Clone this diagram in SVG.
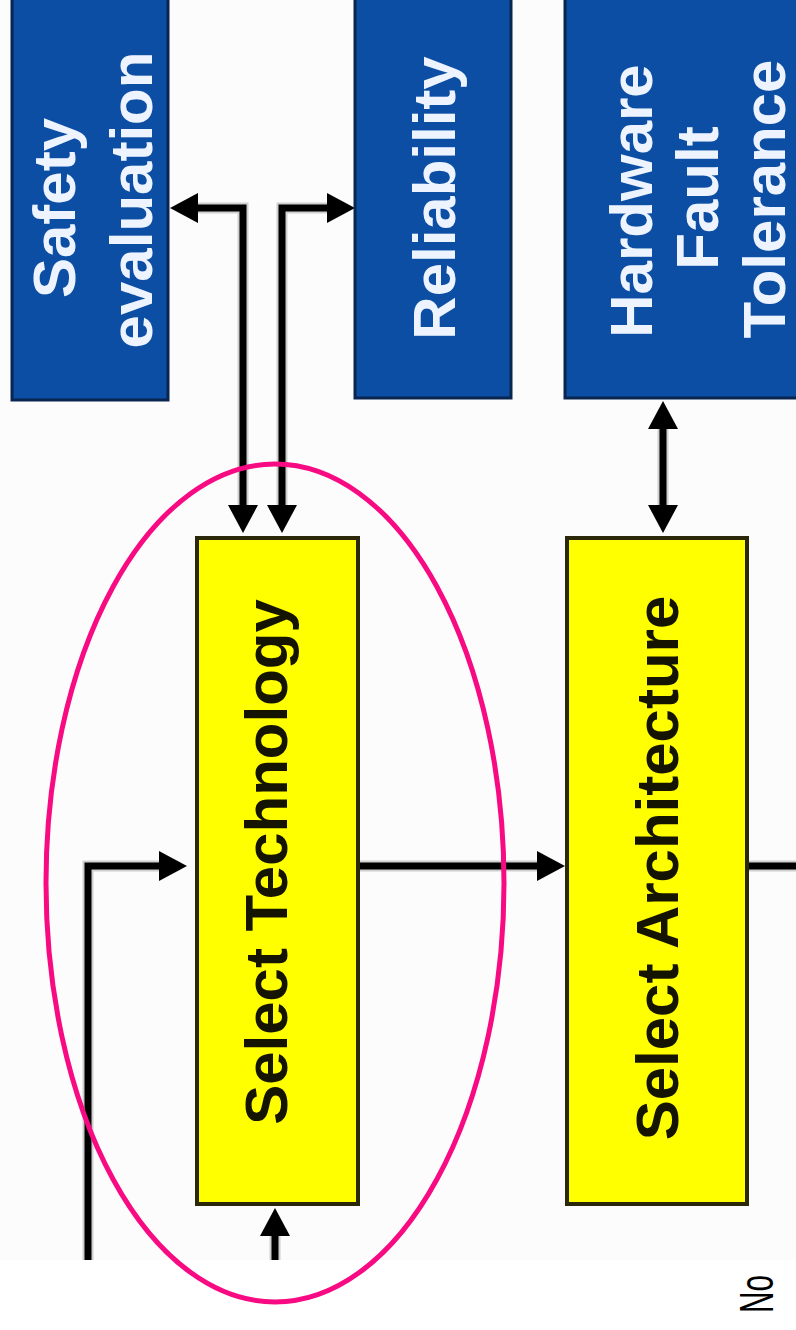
<svg xmlns="http://www.w3.org/2000/svg" width="796" height="1330" viewBox="0 0 796 1330">
  <style>
    .blue { fill: #0B4EA4; stroke: #0A2550; stroke-width: 3; }
    .yellow { fill: #FFFF00; stroke: #2A2808; stroke-width: 4; }
    .wt { font-family: "Liberation Sans", Arial, sans-serif; font-weight: bold; font-size: 60px; fill: #EEF4FF; text-anchor: middle; }
    .bt { font-family: "Liberation Sans", Arial, sans-serif; font-weight: bold; font-size: 60px; fill: #141400; text-anchor: middle; }
    .wire { fill: none; stroke: #000; stroke-width: 7; }
    .halo { fill: none; stroke: #9a9a9a; stroke-width: 11; opacity: 0.45; }
  </style>
  <defs>
    <marker id="head" markerUnits="userSpaceOnUse" viewBox="0 -16 30 32" refX="0" refY="0" markerWidth="30" markerHeight="32" orient="auto-start-reverse" overflow="visible">
      <path d="M0,-15 L28,0 L0,15 z" fill="#000"/>
    </marker>
  </defs>

  <!-- page background -->
  <rect x="0" y="0" width="796" height="1330" fill="#FFFFFF"/>
  <rect x="0" y="0" width="796" height="1260" fill="#FCFCFC"/>

  <g id="connectors">
    <path class="halo" d="M198,208 H243 V505"/>
    <path class="halo" d="M327,208 H282 V505"/>
    <path class="halo" d="M663,429 V505"/>
    <path class="halo" d="M358,866 H537"/>
    <path class="halo" d="M747,866 H800"/>
    <path class="halo" d="M88,1260 V866 H159"/>
    <path class="halo" d="M275,1260 V1236"/>

    <path class="wire" d="M198,208 H243 V505" marker-start="url(#head)" marker-end="url(#head)"/>
    <path class="wire" d="M327,208 H282 V505" marker-start="url(#head)" marker-end="url(#head)"/>
    <path class="wire" d="M663,429 V505" marker-start="url(#head)" marker-end="url(#head)"/>
    <path class="wire" d="M358,866 H537" marker-end="url(#head)"/>
    <path class="wire" d="M747,866 H800"/>
    <path class="wire" d="M88,1260 V866 H159" marker-end="url(#head)"/>
    <path class="wire" d="M275,1260 V1236" marker-end="url(#head)"/>
  </g>

  <g id="safety-evaluation">
    <rect class="blue" x="12" y="-4" width="156" height="404"/>
    <text class="wt" transform="translate(75,208) rotate(-90)">Safety</text>
    <text class="wt" transform="translate(152,200) rotate(-90)">evaluation</text>
  </g>

  <g id="reliability">
    <rect class="blue" x="355" y="-4" width="156" height="402"/>
    <text class="wt" transform="translate(455,198) rotate(-90)">Reliability</text>
  </g>

  <g id="hardware-fault-tolerance">
    <rect class="blue" x="565" y="-4" width="240" height="402"/>
    <text class="wt" transform="translate(652,201) rotate(-90)">Hardware</text>
    <text class="wt" transform="translate(718,198) rotate(-90)">Fault</text>
    <text class="wt" transform="translate(785,199) rotate(-90)">Tolerance</text>
  </g>

  <g id="select-technology">
    <rect class="yellow" x="197" y="538" width="161" height="666"/>
    <text class="bt" transform="translate(287,862) rotate(-90)">Select Technology</text>
  </g>

  <g id="select-architecture">
    <rect class="yellow" x="567" y="538" width="180" height="666"/>
    <text class="bt" transform="translate(678,868) rotate(-90)">Select Architecture</text>
  </g>

  <!-- highlight ring around the technology step -->
  <g id="highlight">
    <ellipse cx="275" cy="883" rx="229" ry="419" fill="none" stroke="#F80A82" stroke-width="5"/>
  </g>

  <g id="no-label">
    <text transform="translate(773,1313) rotate(-90) scale(0.62,1)" font-family="Liberation Sans, Arial, sans-serif" font-size="48" fill="#000">No</text>
  </g>
</svg>
